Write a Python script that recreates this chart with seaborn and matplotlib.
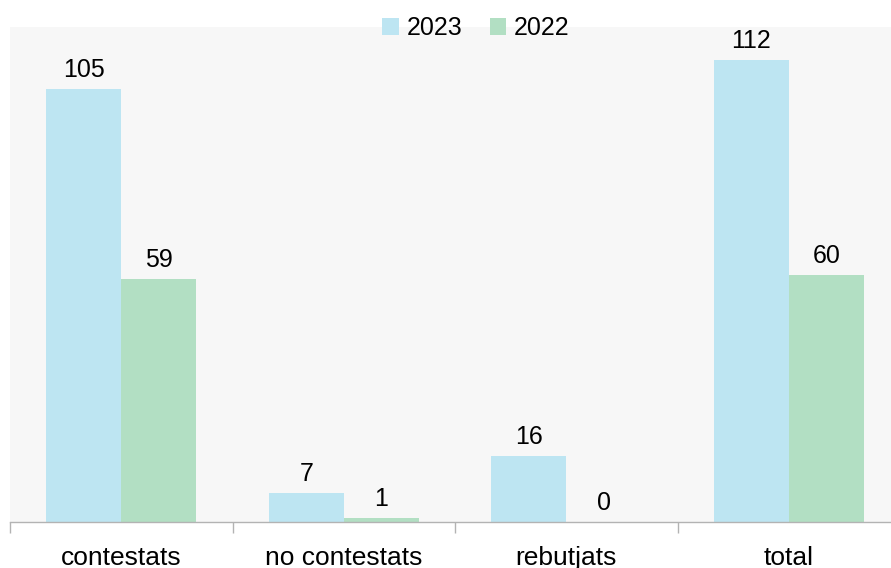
import matplotlib
matplotlib.use("Agg")
import matplotlib.pyplot as plt
import seaborn as sns
import pandas as pd

categories = ["contestats", "no contestats", "rebutjats", "total"]
years = ["2023", "2022"]
values_2023 = [105, 7, 16, 112]
values_2022 = [59, 1, 0, 60]

colors = ["#bde5f2", "#b2dfc3"]

df = pd.DataFrame({
    "categoria": categories * 2,
    "any": [years[0]] * len(categories) + [years[1]] * len(categories),
    "valor": values_2023 + values_2022,
})

sns.set_theme(style="white")
plt.rcParams["font.family"] = ["Liberation Sans", "DejaVu Sans"]
plt.rcParams["text.color"] = "#000000"

fig = plt.figure(figsize=(8.91, 5.68), dpi=100)
ax = fig.add_axes([10 / 891, 1 - 522 / 568, 890 / 891, (522 - 27) / 568])
ax.set_facecolor("#f7f7f7")

sns.barplot(data=df, x="categoria", y="valor", hue="any", order=categories,
            hue_order=years, palette=colors, width=0.674, saturation=1,
            gap=0, ax=ax, legend=False, linewidth=0)

for cont in ax.containers:
    ax.bar_label(cont, fmt="%d", padding=5, fontsize=18, color="#000000")

ax.set_ylim(0, 120)
ax.set_xlim(-0.5, 3.5)
ax.set_xlabel("")
ax.set_ylabel("")
ax.set_yticks([])

for side in ["top", "left", "right"]:
    ax.spines[side].set_visible(False)
ax.spines["bottom"].set_color("#b3b3b3")
ax.spines["bottom"].set_linewidth(1.0)

ax.set_xticks(range(len(categories)))
ax.set_xticklabels(categories, fontsize=19, color="#000000")
ax.tick_params(axis="x", which="major", length=0, pad=17)
ax.set_xticks([-0.5, 0.5, 1.5, 2.5, 3.5], minor=True)
ax.tick_params(axis="x", which="minor", length=8, width=1.0, color="#b3b3b3",
               direction="out", bottom=True)

handles = [plt.Rectangle((0, 0), 1, 1, facecolor=c, edgecolor="none") for c in colors]
fig.legend(handles, years, loc="center", bbox_to_anchor=(476 / 891, 1 - 28 / 568),
           ncol=2, frameon=False, fontsize=18, handlelength=0.65,
           handleheight=0.65, handletextpad=0.32, columnspacing=1.1,
           borderpad=0, borderaxespad=0, labelcolor="#000000")

fig.savefig("out.png", dpi=100)
